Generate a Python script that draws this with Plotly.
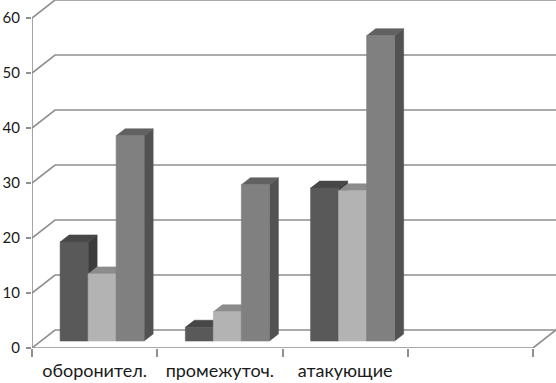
import plotly.graph_objects as go

# ---- data ----
categories = ["оборонител.", "промежуточ.", "атакующие", ""]
series_dark = [18.0, 2.5, 27.8, None]
series_light = [12.2, 5.3, 27.3, None]
series_mid = [37.3, 28.4, 55.5, None]
y_ticks = [0, 10, 20, 30, 40, 50, 60]

# ---- style / geometry constants (axis units) ----
PX_X = 125.25          # px per category unit
PX_Y = 5.5             # px per value unit
WDX, WDY = 23 / PX_X, 18 / PX_Y      # back-wall depth offset
FDX, FDY = 7.5 / PX_X, 7 / PX_Y      # bar front-face offset from front plane
BDX, BDY = 9 / PX_X, 7 / PX_Y        # bar depth
BW = 28 / PX_X                       # bar width
NCAT = len(categories)
GRID = "#8f8f8f"
FONT_X = dict(family="Lato, Carlito, Calibri, sans-serif", size=18, color="#1a1a1a")
FONT_Y = dict(family="Lato, Carlito, Calibri, sans-serif", size=15, color="#1a1a1a")

series = [
    (series_dark, "#595959", "#474747", "#3c3c3c"),
    (series_light, "#b3b3b3", "#8c8c8c", "#7a7a7a"),
    (series_mid, "#808080", "#616161", "#525252"),
]

fig = go.Figure()

# back wall grid lines + floor + front axis line
gx, gy = [], []
for v in y_ticks:
    gx += [0, WDX, NCAT + WDX, None]
    gy += [v, v + WDY, v + WDY, None]
gx += [0, NCAT, NCAT + WDX, None, 0, 0]
gy += [0, 0, WDY, None, 0, y_ticks[-1]]
fig.add_trace(go.Scatter(x=gx, y=gy, mode="lines",
                         line=dict(color=GRID, width=1.6), hoverinfo="skip"))

nser = len(series)
for si, (vals, c_front, c_top, c_side) in enumerate(series):
    fx, fy, tx, ty, sx, sy = [], [], [], [], [], []
    for ci, v in enumerate(vals):
        if v is None:
            continue
        xc = ci + 0.5 + FDX + (si - (nser - 1) / 2) * BW
        x0, x1 = xc - BW / 2, xc + BW / 2
        yb, yt = FDY, FDY + v
        sx += [x1, x1 + BDX, x1 + BDX, x1, x1, None]
        sy += [yb, yb + BDY, yt + BDY, yt, yb, None]
        tx += [x0, x1, x1 + BDX, x0 + BDX, x0, None]
        ty += [yt, yt, yt + BDY, yt + BDY, yt, None]
        fx += [x0, x1, x1, x0, x0, None]
        fy += [yb, yb, yt, yt, yb, None]
    for xs, ys, col in ((sx, sy, c_side), (tx, ty, c_top), (fx, fy, c_front)):
        fig.add_trace(go.Scatter(x=xs, y=ys, mode="lines", fill="toself",
                                 fillcolor=col, line=dict(color=col, width=0.6),
                                 hoverinfo="skip"))

fig.update_layout(
    width=556, height=383,
    margin=dict(l=32, r=0, t=0, b=35, pad=0, autoexpand=False),
    paper_bgcolor="white", plot_bgcolor="white",
    showlegend=False, hovermode=False,
    xaxis=dict(range=[0, NCAT + WDX], tickmode="array", automargin=False,
               tickvals=[i + 0.5 for i in range(NCAT)], ticktext=categories,
               ticks="", showgrid=False, zeroline=False, showline=False,
               tickfont=FONT_X, ticklabelstandoff=10,
               minor=dict(tickmode="array", tickvals=list(range(NCAT + 1)),
                          ticks="outside", ticklen=8, tickcolor=GRID,
                          tickwidth=1.5, showgrid=False)),
    yaxis=dict(range=[0, 348 / PX_Y], tickmode="array", tickvals=y_ticks,
               automargin=False,
               ticks="outside", ticklen=5, tickcolor=GRID, tickwidth=1.5,
               showgrid=False, zeroline=False, showline=False,
               tickfont=FONT_Y, ticklabelstandoff=3),
)

fig.write_html(
    "out.html",
    config={"displayModeBar": False},
    post_script="document.body.style.margin='0';document.body.style.overflow='hidden';",
)
